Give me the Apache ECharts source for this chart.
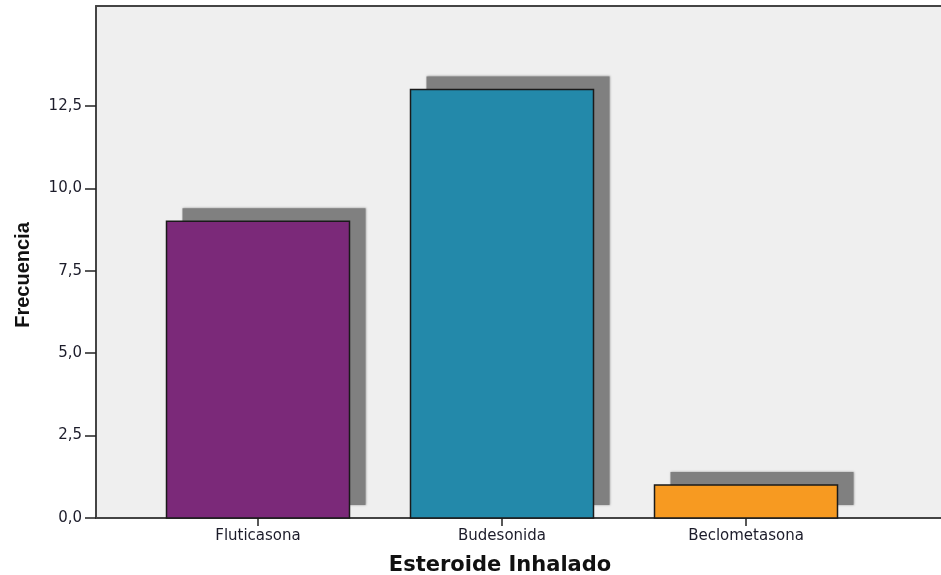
<!DOCTYPE html>
<html>
<head>
<meta charset="utf-8">
<script src="https://cdn.jsdelivr.net/npm/echarts@6/dist/echarts.min.js"></script>
<style>
  html, body { margin: 0; padding: 0; background: #ffffff; }
  #chart { width: 941px; height: 575px; }
</style>
</head>
<body>
<div id="chart"></div>
<script>
// Frequency of each inhaled steroid
const categories = ['Fluticasona', 'Budesonida', 'Beclometasona'];
const frequencies = [9, 13, 1];
const barColors = ['#7b2979', '#2389aa', '#f79a21'];
const yTicks = [0, 2.5, 5, 7.5, 10, 12.5];
const yMax = 15.53;

const fmt = v => v.toFixed(1).replace('.', ',');
const labelFont = 'DejaVu Sans, Verdana, sans-serif';

// drop shadow geometry (pixels) and bar width as a share of the category band
const SHADOW_DX = 16, SHADOW_DY = -13, BAR_SHARE = 0.75;

function renderBar(params, api) {
  const idx = api.value(0);
  const val = api.value(1);
  const top = api.coord([idx, val]);
  const base = api.coord([idx, 0]);
  const band = api.size([1, 0])[0];
  const w = band * BAR_SHARE;
  const x = top[0] - w / 2;
  const h = base[1] - top[1];
  return {
    type: 'group',
    children: [
      {
        type: 'rect',
        shape: { x: x + SHADOW_DX, y: top[1] + SHADOW_DY, width: w, height: h },
        style: { fill: '#808080', shadowBlur: 2, shadowColor: 'rgba(128,128,128,0.8)' }
      },
      {
        type: 'rect',
        shape: { x: x, y: top[1], width: w, height: h },
        style: { fill: barColors[idx], stroke: '#1a1a1a', lineWidth: 1.5 }
      }
    ]
  };
}

const chart = echarts.init(document.getElementById('chart'), null, { renderer: 'canvas' });

chart.setOption({
  animation: false,
  grid: [
    // frame: grey panel with left axis and baseline
    { left: 96, right: 0, top: 6, bottom: 57, show: true, backgroundColor: '#efefef', borderWidth: 0, outerBoundsMode: 'none', containLabel: false },
    // inner band used to place the bars
    { left: 136, right: 73, top: 6, bottom: 57, outerBoundsMode: 'none', containLabel: false }
  ],
  xAxis: [
    {
      gridIndex: 0, type: 'value', min: 0, max: 1, position: 'bottom',
      axisLine: { show: true, onZero: false, lineStyle: { color: '#444444', width: 2 } },
      axisTick: { show: false }, axisLabel: { show: false }, splitLine: { show: false },
      name: 'Esteroide Inhalado', nameLocation: 'middle', nameGap: 37,
      nameTextStyle: { fontFamily: labelFont, fontWeight: 'bold', fontSize: 21, color: '#111111', padding: [0, 37, 0, 0] }
    },
    {
      gridIndex: 0, type: 'value', min: 0, max: 1, position: 'top',
      axisLine: { show: true, onZero: false, lineStyle: { color: '#444444', width: 2 } },
      axisTick: { show: false }, axisLabel: { show: false }, splitLine: { show: false }
    },
    {
      gridIndex: 1, type: 'category', data: categories, position: 'bottom',
      axisLine: { show: false },
      axisTick: { show: true, alignWithLabel: true, length: 8, lineStyle: { color: '#222222', width: 1.5 } },
      axisLabel: { margin: 11, fontFamily: labelFont, fontSize: 15, color: '#1c1c2a' }
    }
  ],
  yAxis: [
    {
      gridIndex: 0, type: 'value', min: 0, max: yMax,
      axisLine: { show: true, lineStyle: { color: '#444444', width: 2 } },
      axisTick: { show: true, length: 11, customValues: yTicks, lineStyle: { color: '#222222', width: 1.5 } },
      axisLabel: { margin: 14, customValues: yTicks, formatter: fmt, fontFamily: labelFont, fontSize: 15, color: '#1c1c2a' },
      splitLine: { show: false },
      name: 'Frecuencia', nameLocation: 'middle', nameGap: 63, nameRotate: 90,
      nameTextStyle: { fontFamily: 'Liberation Sans Narrow, Liberation Sans, Arial, sans-serif', fontWeight: 'bold', fontSize: 20, color: '#111111', padding: [0, 26, 0, 0] }
    },
    {
      gridIndex: 1, type: 'value', min: 0, max: yMax, show: false
    }
  ],
  series: [{
    type: 'custom',
    xAxisIndex: 2,
    yAxisIndex: 1,
    renderItem: renderBar,
    encode: { x: 0, y: 1 },
    data: frequencies.map((v, i) => [i, v])
  }]
});
</script>
</body>
</html>
